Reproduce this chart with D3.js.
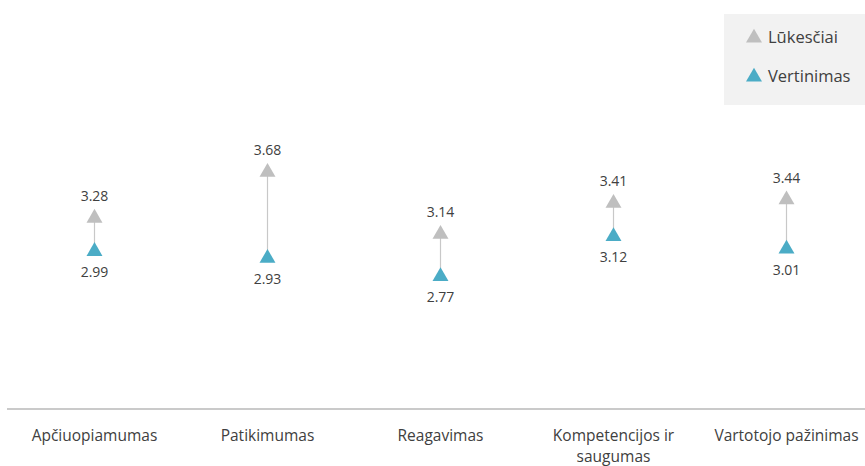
<!DOCTYPE html>
<html>
<head>
<meta charset="utf-8">
<script src="https://cdn.jsdelivr.net/npm/d3@7"></script>
<style>
  body { margin: 0; background: #fff; }
  svg { display: block; font-family: "Open Sans", "Noto Sans", sans-serif; }
</style>
</head>
<body>
<svg id="chart" width="865" height="466"></svg>
<script>
const categories = ["Apčiuopiamumas", "Patikimumas", "Reagavimas", "Kompetencijos ir saugumas", "Vartotojo pažinimas"];
const categoryLines = [["Apčiuopiamumas"], ["Patikimumas"], ["Reagavimas"], ["Kompetencijos ir", "saugumas"], ["Vartotojo pažinimas"]];
const lukesciai = [3.28, 3.68, 3.14, 3.41, 3.44];
const vertinimas = [2.99, 2.93, 2.77, 3.12, 3.01];
const seriesNames = ["Lūkesčiai", "Vertinimas"];
const seriesColors = ["#bfbfbf", "#4bacc6"];

const svg = d3.select("#chart");

const x = d3.scaleBand().domain(categories).range([8, 873]).paddingInner(0).paddingOuter(0);
const y = d3.scaleLinear().domain([2, 4]).range([363.7, 134.6]);
const cx = (d) => x(d) + x.bandwidth() / 2;

// axis line
const axisY = 409;
const xAxis = d3.axisBottom(x).tickSize(0).tickFormat(() => "");
const gx = svg.append("g").attr("transform", `translate(0,${axisY})`).call(xAxis);
gx.select(".domain").attr("stroke", "#b8b8b8").attr("stroke-width", 1.5).attr("d", "M7,0H865");

// category labels (one text element per line)
categories.forEach((c, i) => {
  categoryLines[i].forEach((ln, j) => {
    svg.append("text")
      .attr("x", cx(c))
      .attr("y", 440.5 + j * 21.3)
      .attr("text-anchor", "middle")
      .attr("font-size", 15.5)
      .attr("fill", "#404040")
      .text(ln);
  });
});

const tri = d3.symbol().type(d3.symbolTriangle).size(110);

// connector lines
svg.append("g").selectAll("line").data(categories).join("line")
  .attr("x1", cx).attr("x2", cx)
  .attr("y1", (d, i) => y(lukesciai[i]))
  .attr("y2", (d, i) => y(vertinimas[i]))
  .attr("stroke", "#c8c8c8")
  .attr("stroke-width", 1.2);

// Lūkesčiai markers + labels
svg.append("g").selectAll("path").data(categories).join("path")
  .attr("d", tri)
  .attr("transform", (d, i) => `translate(${cx(d)},${y(lukesciai[i]) + 1})`)
  .attr("fill", seriesColors[0]);
svg.append("g").selectAll("text").data(categories).join("text")
  .attr("x", cx)
  .attr("y", (d, i) => y(lukesciai[i]) - 16)
  .attr("text-anchor", "middle")
  .attr("font-size", 14)
  .attr("fill", "#404040")
  .text((d, i) => lukesciai[i].toFixed(2));

// Vertinimas markers + labels
svg.append("g").selectAll("path").data(categories).join("path")
  .attr("d", tri)
  .attr("transform", (d, i) => `translate(${cx(d)},${y(vertinimas[i]) + 1})`)
  .attr("fill", seriesColors[1]);
svg.append("g").selectAll("text").data(categories).join("text")
  .attr("x", cx)
  .attr("y", (d, i) => y(vertinimas[i]) + 27)
  .attr("text-anchor", "middle")
  .attr("font-size", 14)
  .attr("fill", "#404040")
  .text((d, i) => vertinimas[i].toFixed(2));

// legend
const lg = svg.append("g");
lg.append("rect").attr("x", 724).attr("y", 14).attr("width", 145).attr("height", 91).attr("fill", "#f2f2f2");
seriesNames.forEach((n, i) => {
  const cy = 37 + i * 39;
  lg.append("path").attr("d", tri).attr("transform", `translate(754,${cy + 1})`).attr("fill", seriesColors[i]);
  lg.append("text").attr("x", 768).attr("y", cy + 6).attr("font-size", 16.5).attr("fill", "#404040").text(n);
});
</script>
</body>
</html>
